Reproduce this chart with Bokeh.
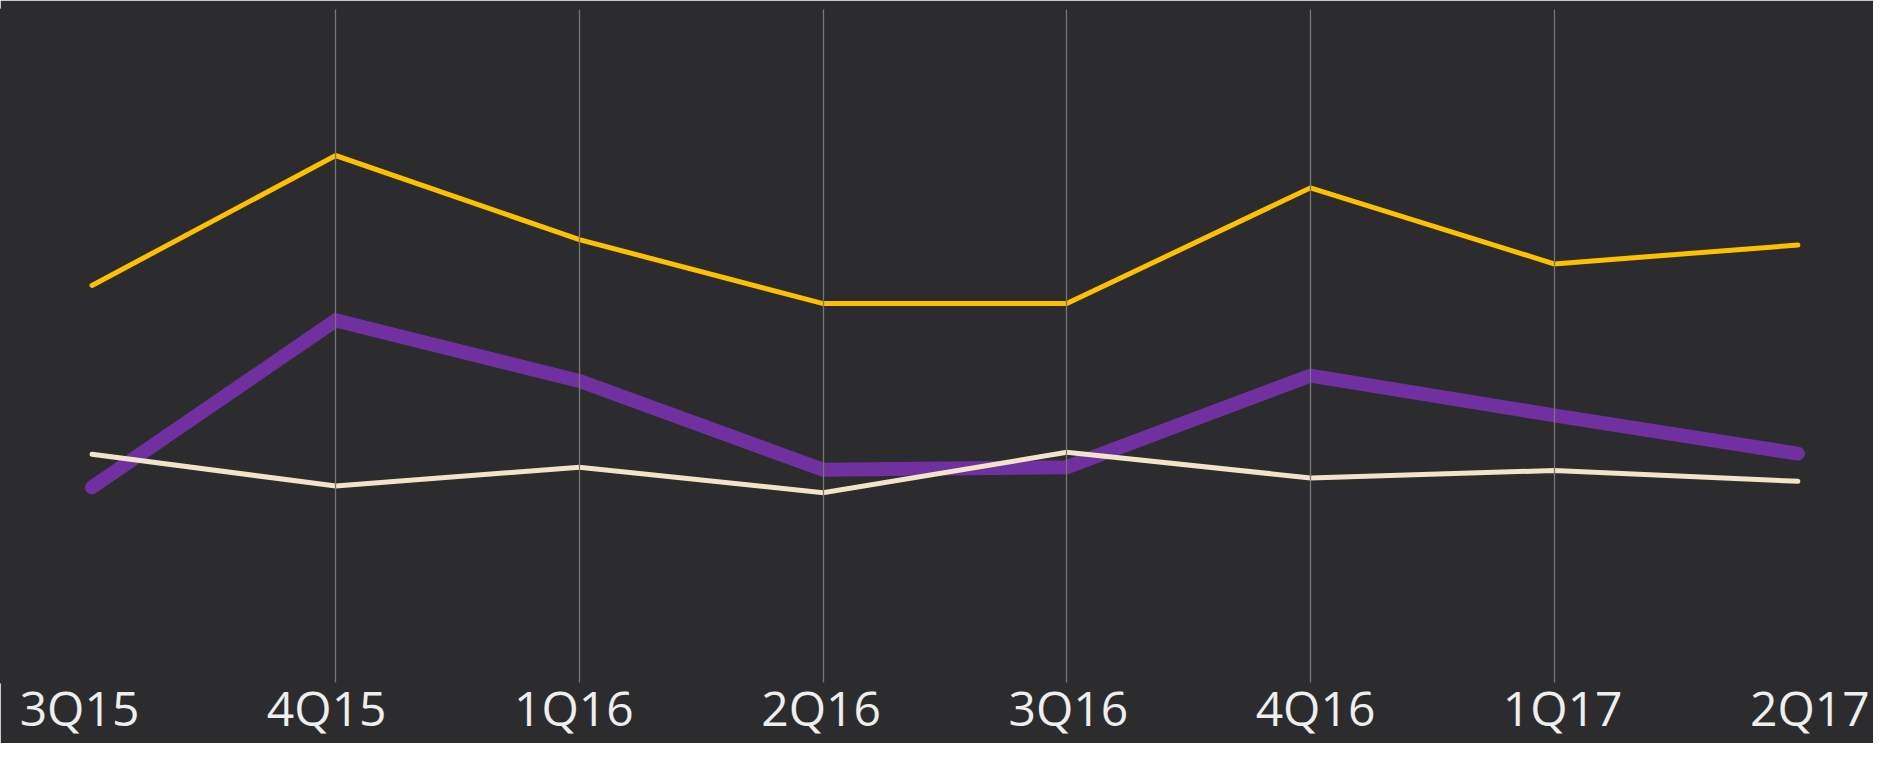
from bokeh.plotting import figure
from bokeh.models import Range1d, FixedTicker, LinearAxis, ColumnDataSource, Grid
from bokeh.embed import file_html
from bokeh.resources import INLINE

# ---- data ----
quarters = ["3Q15", "4Q15", "1Q16", "2Q16", "3Q16", "4Q16", "1Q17", "2Q17"]
gold_series = [59.0, 78.3, 65.8, 56.3, 56.3, 73.5, 62.2, 65.0]
purple_series = [29.0, 53.8, 44.8, 31.6, 32.0, 45.6, 39.7, 34.0]
cream_series = [33.9, 29.2, 32.0, 28.2, 34.2, 30.4, 31.5, 29.9]

BG = "#2c2c2f"
idx = list(range(len(quarters)))
src = ColumnDataSource(dict(x=idx, gold=gold_series, purple=purple_series, cream=cream_series))

W, H = 1873, 743
p = figure(width=W, height=H, output_backend="svg", toolbar_location=None,
           x_range=Range1d(-0.3755, 7.3102), y_range=Range1d(0, 100),
           min_border_left=0, min_border_right=0, min_border_top=9, min_border_bottom=61,
           background_fill_color=BG, border_fill_color=BG,
           outline_line_color=BG, outline_line_width=2,
           x_axis_location=None, y_axis_location=None)

p.extra_x_ranges = {"labels": Range1d(-0.3196, 7.2573)}

common = dict(line_cap="round", line_join="miter")
p.line("x", "purple", source=src, line_color="#7030A0", line_width=14, **common)
p.line("x", "gold", source=src, line_color="#FFC000", line_width=5, **common)
p.line("x", "cream", source=src, line_color="#F2E4C8", line_width=5, **common)

ax = LinearAxis(x_range_name="labels", ticker=FixedTicker(ticks=idx),
                major_label_overrides={i: q for i, q in enumerate(quarters)})
ax.axis_line_color = None
ax.major_tick_line_color = None
ax.minor_tick_line_color = None
ax.major_tick_out = 0
ax.major_tick_in = 0
ax.minor_tick_out = 0
ax.minor_tick_in = 0
ax.major_label_text_font = "Open Sans"
ax.major_label_text_font_size = "48px"
ax.major_label_text_color = "#eeeeee"
ax.major_label_standoff = -8
p.add_layout(ax, "below")

p.xgrid.visible = False
p.ygrid.visible = False
g = Grid(dimension=0, ticker=FixedTicker(ticks=idx[1:-1]), grid_line_color="#767676",
         grid_line_width=1.3, level="overlay")
p.add_layout(g)

open("out.html", "w").write(file_html(p, INLINE))
